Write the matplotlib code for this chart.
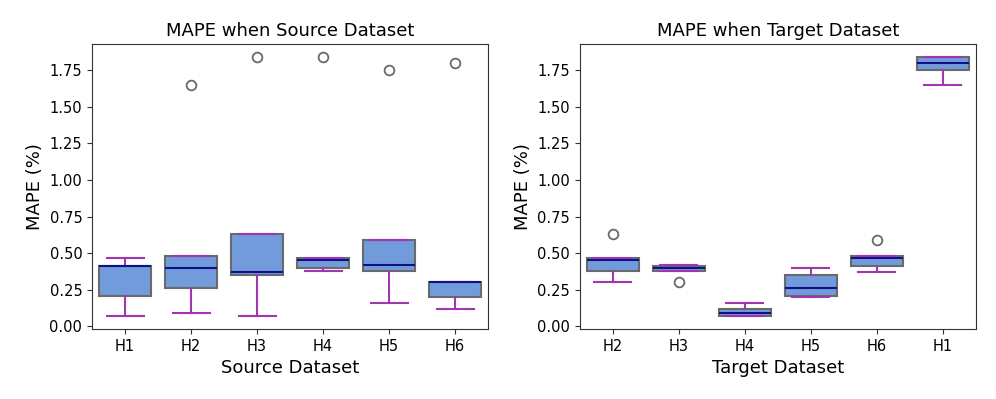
import matplotlib.pyplot as plt

# five-number summaries (MAPE, %)
src_labels = ['H1', 'H2', 'H3', 'H4', 'H5', 'H6']
src_wlo = [0.07, 0.09, 0.07, 0.38, 0.16, 0.12]
src_q1 = [0.21, 0.26, 0.35, 0.40, 0.38, 0.20]
src_med = [0.41, 0.40, 0.37, 0.45, 0.42, 0.30]
src_q3 = [0.41, 0.48, 0.63, 0.47, 0.59, 0.30]
src_whi = [0.47, 0.48, 0.63, 0.47, 0.59, 0.30]
src_fliers = [[], [1.65], [1.84], [1.84], [1.75], [1.80]]

tgt_labels = ['H2', 'H3', 'H4', 'H5', 'H6', 'H1']
tgt_wlo = [0.30, 0.38, 0.07, 0.20, 0.37, 1.65]
tgt_q1 = [0.38, 0.38, 0.07, 0.21, 0.41, 1.75]
tgt_med = [0.45, 0.40, 0.09, 0.26, 0.47, 1.80]
tgt_q3 = [0.47, 0.41, 0.12, 0.35, 0.48, 1.84]
tgt_whi = [0.47, 0.42, 0.16, 0.40, 0.48, 1.84]
tgt_fliers = [[0.63], [0.30], [], [], [0.59], []]

box_face = '#729bdc'
box_edge = '#6a6a6a'
whisk_col = '#a235b0'
med_col = '#10108a'


def make_stats(labels, wlo, q1, med, q3, whi, fliers):
    stats = []
    for i in range(len(labels)):
        stats.append({'label': labels[i], 'whislo': wlo[i], 'q1': q1[i],
                      'med': med[i], 'q3': q3[i], 'whishi': whi[i],
                      'fliers': fliers[i]})
    return stats


fig = plt.figure(figsize=(9.96, 3.99), dpi=100)
ax1 = fig.add_axes([0.0924, 0.1754, 0.3976, 0.7143])
ax2 = fig.add_axes([0.5823, 0.1754, 0.3976, 0.7143])

panels = [
    (ax1, make_stats(src_labels, src_wlo, src_q1, src_med, src_q3, src_whi, src_fliers),
     'MAPE when Source Dataset', 'Source Dataset'),
    (ax2, make_stats(tgt_labels, tgt_wlo, tgt_q1, tgt_med, tgt_q3, tgt_whi, tgt_fliers),
     'MAPE when Target Dataset', 'Target Dataset'),
]

for ax, stats, title, xlabel in panels:
    ax.bxp(stats, widths=0.8, capwidths=0.56, patch_artist=True,
           boxprops=dict(facecolor=box_face, edgecolor=box_edge, linewidth=1.5),
           whiskerprops=dict(color=whisk_col, linewidth=1.5),
           capprops=dict(color=whisk_col, linewidth=1.5),
           medianprops=dict(color=med_col, linewidth=1.5),
           flierprops=dict(marker='o', markerfacecolor='none',
                           markeredgecolor=box_edge, markersize=7, markeredgewidth=1.3))
    ax.set_ylim(-0.0185, 1.9285)
    ax.set_title(title, fontsize=13)
    ax.set_xlabel(xlabel, fontsize=13)
    ax.set_ylabel('MAPE (%)', fontsize=13)
    ax.tick_params(labelsize=10.5, color='#333333')
    for s in ax.spines.values():
        s.set_color('#333333')

fig.savefig('out.png', dpi=100)
